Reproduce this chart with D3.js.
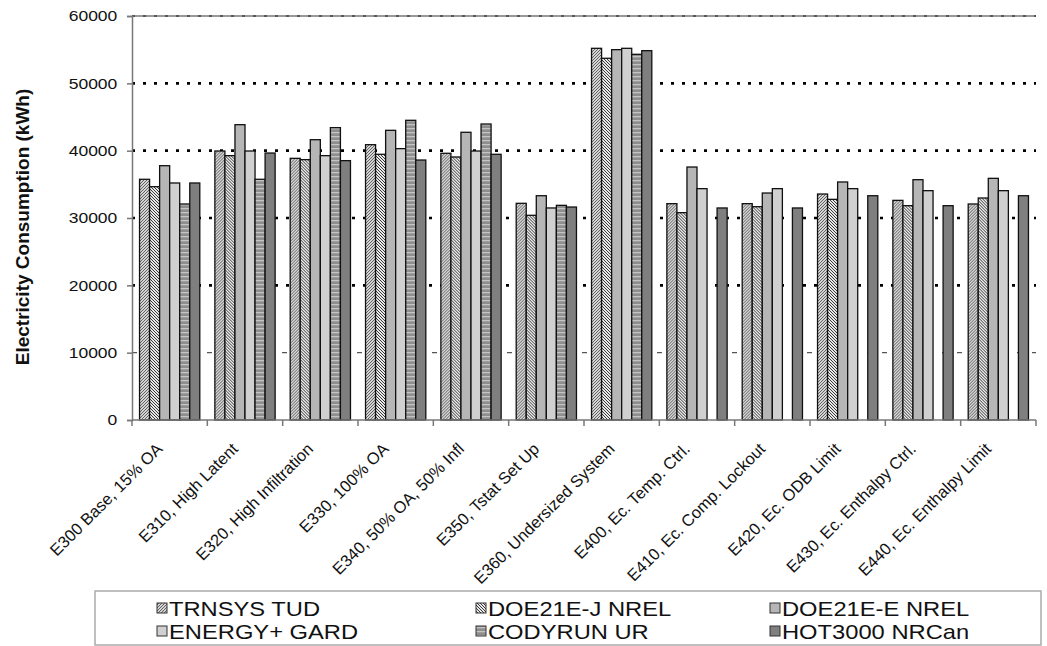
<!DOCTYPE html>
<html>
<head>
<meta charset="utf-8">
<script src="https://cdn.jsdelivr.net/npm/d3@7"></script>
<style>
  body { margin: 0; background: #fff; }
  text { font-family: "Liberation Sans", Arial, sans-serif; }
</style>
</head>
<body>
<script>
const categories = [
  'E300 Base, 15% OA', 'E310, High Latent', 'E320, High Infiltration', 'E330, 100% OA',
  'E340, 50% OA, 50% Infl', 'E350, Tstat Set Up', 'E360, Undersized System', 'E400, Ec. Temp. Ctrl.',
  'E410, Ec. Comp. Lockout', 'E420, Ec. ODB Limit', 'E430, Ec. Enthalpy Ctrl.', 'E440, Ec. Enthalpy Limit'
];
const seriesNames = ['TRNSYS TUD', 'DOE21E-J NREL', 'DOE21E-E NREL', 'ENERGY+ GARD', 'CODYRUN UR', 'HOT3000 NRCan'];

const trnsys  = [35750, 39950, 38860, 40890, 39610, 32180, 55200, 32130, 32130, 33560, 32620, 32080];
const doe21eJ = [34650, 39260, 38670, 39460, 39060, 30400, 53720, 30790, 31680, 32770, 31830, 32970];
const doe21eE = [37770, 43860, 41630, 43020, 42730, 33310, 55000, 37570, 33710, 35350, 35690, 35890];
const energyPlus = [35200, 39950, 39260, 40300, 39950, 31490, 55200, 34360, 34360, 34360, 34060, 34060];
const codyrun = [32080, 35750, 43420, 44510, 43960, 31880, 54310, null, null, null, null, null];
const hot3000 = [35200, 39650, 38520, 38610, 39460, 31630, 54850, 31490, 31490, 33310, 31830, 33310];
const seriesValues = [trnsys, doe21eJ, doe21eE, energyPlus, codyrun, hot3000];

const yTicks = [0, 10000, 20000, 30000, 40000, 50000, 60000];

const W = 1047, H = 646;
const plotL = 132, plotR = 1036, plotT = 16, plotB = 420;
const stretch = 1.13; // the source picture is a bit wider than tall

const svg = d3.select('body').append('svg')
  .attr('width', W)
  .attr('height', H);

// patterns for the series fills
const defs = svg.append('defs');
const p1 = defs.append('pattern').attr('id', 'pat0')
  .attr('patternUnits', 'userSpaceOnUse').attr('width', 3).attr('height', 3);
p1.append('rect').attr('width', 3).attr('height', 3).attr('fill', '#d4d4d4');
p1.append('path').attr('d', 'M-1,1 L1,-1 M0,3 L3,0 M2,4 L4,2').attr('stroke', '#555').attr('stroke-width', 0.9);

const p2 = defs.append('pattern').attr('id', 'pat1')
  .attr('patternUnits', 'userSpaceOnUse').attr('width', 3).attr('height', 3);
p2.append('rect').attr('width', 3).attr('height', 3).attr('fill', '#e8e8e8');
p2.append('path').attr('d', 'M-1,2 L1,4 M0,0 L3,3 M2,-1 L4,1').attr('stroke', '#3a3a3a').attr('stroke-width', 1);

const p5 = defs.append('pattern').attr('id', 'pat4')
  .attr('patternUnits', 'userSpaceOnUse').attr('width', 4).attr('height', 4);
p5.append('rect').attr('width', 4).attr('height', 4).attr('fill', '#8e8e8e');
p5.append('rect').attr('y', 0).attr('width', 4).attr('height', 1.3).attr('fill', '#c4c4c4');

const fills = ['url(#pat0)', 'url(#pat1)', '#b6b6b6', '#d0d0d0', 'url(#pat4)', '#7f7f7f'];

const x0 = d3.scaleBand().domain(categories).range([plotL, plotR]).padding(0);
const x1 = d3.scaleBand().domain(seriesNames).range([0, x0.bandwidth()])
  .paddingInner(0).paddingOuter(0.75);
const y = d3.scaleLinear().domain([0, 60000]).range([plotB, plotT]);

// gridlines
svg.append('line')
  .attr('x1', plotL).attr('x2', plotR)
  .attr('y1', y(60000)).attr('y2', y(60000))
  .attr('stroke', '#999').attr('stroke-width', 2);

svg.append('g').selectAll('line')
  .data(yTicks.filter(d => d > 0))
  .join('line')
  .attr('x1', plotL).attr('x2', plotR)
  .attr('y1', d => y(d)).attr('y2', d => y(d))
  .attr('stroke', d => d === 10000 ? '#555' : d === 60000 ? '#444' : '#000')
  .attr('stroke-width', d => d === 10000 ? 1.2 : d === 60000 ? 1.5 : 2.6)
  .attr('stroke-dasharray', d => d === 10000 ? '5,10' : '3,8');

// bars
const groups = svg.append('g').selectAll('g')
  .data(categories)
  .join('g')
  .attr('transform', d => `translate(${x0(d)},0)`);

groups.selectAll('rect')
  .data((c, i) => seriesNames.map((s, k) => ({ s, k, v: seriesValues[k][i] })).filter(d => d.v != null))
  .join('rect')
  .attr('x', d => x1(d.s))
  .attr('y', d => y(d.v))
  .attr('width', x1.bandwidth())
  .attr('height', d => y(0) - y(d.v))
  .attr('fill', d => fills[d.k])
  .attr('stroke', '#111')
  .attr('stroke-width', 1.3);

// y axis
const yAxis = svg.append('g')
  .attr('transform', `translate(${plotL},0)`)
  .call(d3.axisLeft(y).tickValues(yTicks).tickFormat(d3.format('d')).tickSize(5).tickPadding(8));
yAxis.select('.domain').attr('stroke', '#777').attr('stroke-width', 1.5);
yAxis.selectAll('.tick line').attr('stroke', '#777').attr('stroke-width', 1.5);
yAxis.selectAll('text')
  .attr('font-size', 15.5)
  .attr('fill', '#111')
  .attr('transform', `scale(${stretch},1)`);

// x axis
const xAxis = svg.append('g')
  .attr('transform', `translate(0,${plotB})`);
xAxis.append('line')
  .attr('x1', plotL).attr('x2', plotR)
  .attr('stroke', '#777').attr('stroke-width', 1.5);
xAxis.selectAll('.tk')
  .data(categories.concat(['end']))
  .join('line')
  .attr('class', 'tk')
  .attr('x1', (d, i) => plotL + i * x0.step())
  .attr('x2', (d, i) => plotL + i * x0.step())
  .attr('y1', 0).attr('y2', 6)
  .attr('stroke', '#777').attr('stroke-width', 1.5);
xAxis.selectAll('text')
  .data(categories)
  .join('text')
  .attr('transform', d => `translate(${x0(d) + x0.bandwidth() / 2 - 6},${30}) rotate(-45)`)
  .attr('text-anchor', 'end')
  .attr('font-size', 16.5)
  .attr('fill', '#111')
  .text(d => d);

// y title
svg.append('text')
  .attr('transform', `translate(29,${(plotT + plotB) / 2 + 9}) rotate(-90)`)
  .attr('text-anchor', 'middle')
  .attr('font-size', 19)
  .attr('font-weight', 'bold')
  .attr('fill', '#111')
  .text('Electricity Consumption (kWh)');

// legend
const legend = svg.append('g');
legend.append('rect')
  .attr('x', 95).attr('y', 591)
  .attr('width', 946).attr('height', 54)
  .attr('fill', '#fff')
  .attr('stroke', '#aaa').attr('stroke-width', 1.5);
const colX = [157, 476, 770];
const rowY = [608, 631];
const items = legend.selectAll('g.item')
  .data(seriesNames)
  .join('g')
  .attr('class', 'item')
  .attr('transform', (d, i) => `translate(${colX[i % 3]},${rowY[Math.floor(i / 3)]})`);
items.append('rect')
  .attr('x', 0).attr('y', -5)
  .attr('width', 10).attr('height', 10)
  .attr('fill', (d, i) => fills[i])
  .attr('stroke', '#333').attr('stroke-width', 1);
items.append('text')
  .attr('transform', `translate(12,0) scale(${stretch},1)`)
  .attr('dy', '0.36em')
  .attr('font-size', 21)
  .attr('fill', '#111')
  .text(d => d);
</script>
</body>
</html>
